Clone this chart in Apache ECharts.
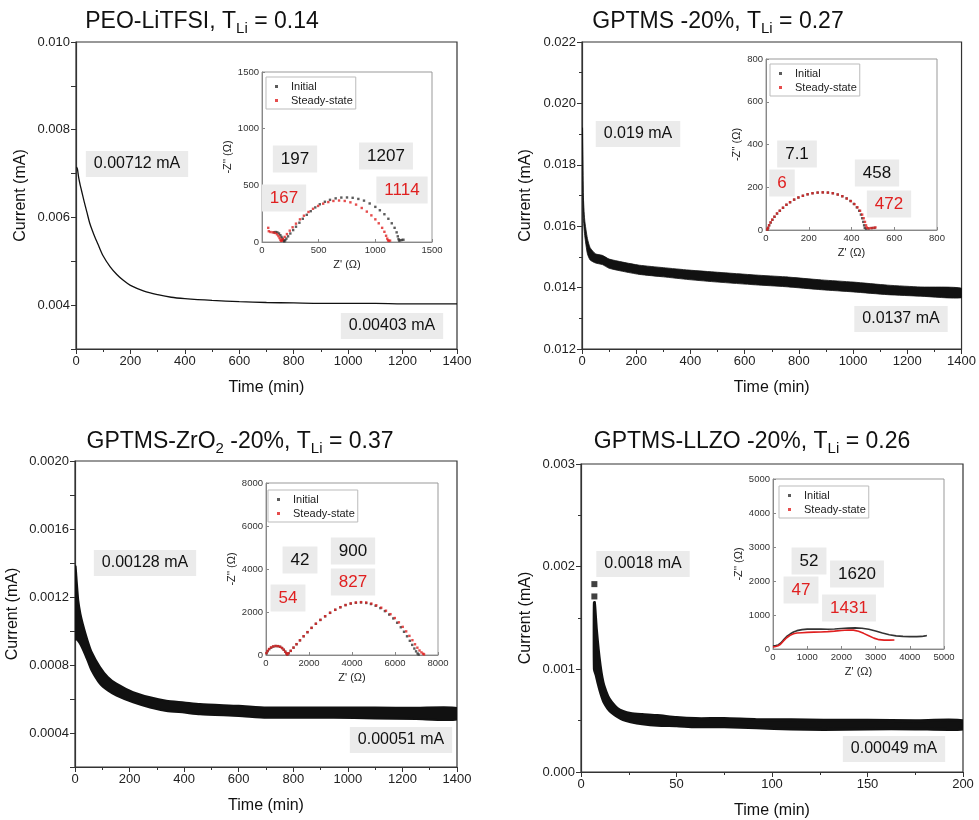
<!DOCTYPE html>
<html>
<head>
<meta charset="utf-8">
<script src="https://cdn.jsdelivr.net/npm/echarts@6.0.0/dist/echarts.min.js"></script>
<style>html,body{margin:0;background:#fff}#main{width:979px;height:820px}</style>
</head>
<body>
<div id="main"></div>
<script>
var FONT = '"Liberation Sans", Arial, sans-serif';
var RED = '#e02020';
var DARK = '#333';

// panel 1: PEO-LiTFSI
var t1 = [2, 5, 10, 15, 20, 30, 40, 50, 60, 70, 80, 100, 125, 150, 175, 200, 250, 300, 350, 400, 500, 600, 700, 800, 900, 1000, 1100, 1200, 1300, 1400];
var i1 = [0.00715, 0.00711, 0.00690, 0.00675, 0.00662, 0.00636, 0.00612, 0.00588, 0.00570, 0.00554, 0.00540, 0.00512, 0.00488, 0.00470, 0.00456, 0.00445, 0.00432, 0.00424, 0.00418, 0.00415, 0.00411, 0.00408, 0.00406, 0.00405, 0.00404, 0.00404, 0.00404, 0.00403, 0.00403, 0.00403];

// panel 2: GPTMS -20% (noisy band, upper / lower edge)
var t2 = [2, 5, 10, 20, 30, 50, 75, 100, 150, 211, 300, 395, 500, 640, 750, 884, 1000, 1128, 1250, 1400];
var up2 = [0.0192, 0.0170, 0.0162, 0.0156, 0.0153, 0.0151, 0.01505, 0.01493, 0.01483, 0.01473, 0.01465, 0.01457, 0.01450, 0.01441, 0.01435, 0.01425, 0.01418, 0.01408, 0.01402, 0.01398];
var lo2 = [0.0186, 0.0163, 0.0157, 0.0151, 0.0149, 0.0148, 0.01475, 0.01463, 0.01453, 0.01443, 0.01435, 0.01426, 0.01418, 0.01409, 0.01403, 0.01393, 0.01386, 0.01377, 0.01372, 0.01367];

// panel 3: GPTMS-ZrO2 -20%
var t3 = [2, 6, 12, 20, 29, 45, 60, 91, 120, 152, 213, 275, 335, 400, 458, 600, 702, 800, 947, 1100, 1250, 1400];
var up3 = [0.00138, 0.00130, 0.00118, 0.00110, 0.00104, 0.00095, 0.00088, 0.00079, 0.00073, 0.00069, 0.00064, 0.00061, 0.00059, 0.00058, 0.00057, 0.00056, 0.00055, 0.00055, 0.00055, 0.00055, 0.000548, 0.000547];
var lo3 = [0.00095, 0.00095, 0.00094, 0.00092, 0.00089, 0.00083, 0.00077, 0.00069, 0.00065, 0.00062, 0.00058, 0.00055, 0.00053, 0.00052, 0.00051, 0.00050, 0.00049, 0.00049, 0.00049, 0.000485, 0.000482, 0.00048];

// panel 4: GPTMS-LLZO -20%
var t4 = [7, 8, 9, 10, 11, 12, 14, 16, 19, 22, 26, 32, 40, 50, 60, 75, 92, 110, 127, 150, 175, 200];
var up4 = [0.00165, 0.00140, 0.00120, 0.00104, 0.00092, 0.00084, 0.00074, 0.00068, 0.00062, 0.00059, 0.00057, 0.00056, 0.00055, 0.00053, 0.00052, 0.00052, 0.00051, 0.00051, 0.000505, 0.000505, 0.0005, 0.0005];
var lo4 = [0.00100, 0.00094, 0.00086, 0.00079, 0.00073, 0.00068, 0.00062, 0.00058, 0.00054, 0.00051, 0.00049, 0.00047, 0.000455, 0.00045, 0.00044, 0.00044, 0.00043, 0.00042, 0.000415, 0.00042, 0.00042, 0.00042];
var first4 = [[7, 0.00183], [7, 0.00171]];

// insets (Nyquist, Z' / -Z'')
var nyq1Init = [[105,85],[120,88],[135,85],[150,75],[162,60],[172,45],[180,30],[186,18],[192,10],[197,6],[205,15],[215,30],[230,50],[250,75],[275,105],[300,135],[330,170],[360,205],[395,240],[430,272],[470,305],[510,333],[555,355],[600,372],[650,385],[700,392],[750,393],[800,390],[850,380],[900,365],[950,340],[1000,310],[1040,280],[1080,245],[1115,205],[1145,165],[1170,125],[1188,85],[1198,50],[1205,25],[1210,12],[1220,15],[1235,18],[1248,20]];
var nyq1SS = [[55,125],[60,95],[75,88],[95,85],[115,80],[132,68],[145,52],[155,35],[163,20],[168,10],[175,12],[185,25],[200,45],[220,70],[245,100],[270,130],[300,162],[335,200],[370,232],[410,265],[450,293],[495,318],[540,338],[585,352],[630,362],[680,366],[730,362],[780,350],[830,330],[880,300],[925,268],[965,235],[1000,200],[1030,165],[1060,125],[1080,90],[1095,55],[1105,30],[1112,15],[1118,10],[1130,12]];

var nyq2Init = [[7,2],[10,10],[15,22],[22,35],[30,48],[40,62],[52,77],[65,90],[80,104],[96,118],[113,130],[132,142],[152,152],[173,160],[195,167],[218,172],[242,175],[266,176],[290,175],[313,172],[336,166],[357,158],[377,148],[395,136],[411,122],[425,106],[436,90],[444,72],[450,55],[455,38],[459,22],[462,10],[468,6],[480,7],[495,9],[508,10]];
var nyq2SS = [[6,2],[9,10],[14,22],[21,35],[29,48],[39,62],[51,77],[64,90],[79,104],[95,118],[112,130],[131,142],[151,152],[172,160],[194,167],[217,172],[241,175],[265,176],[289,175],[312,172],[335,166],[357,158],[378,147],[397,135],[414,121],[428,106],[440,90],[450,72],[457,55],[463,38],[468,22],[471,12],[478,8],[490,9],[502,10],[512,12]];

var nyq3Init = [[30,80],[80,180],[150,270],[240,340],[340,390],[450,415],[560,410],[660,380],[750,320],[830,240],[900,150],[950,70],[990,20],[1050,80],[1150,190],[1280,340],[1420,500],[1580,680],[1750,870],[1930,1060],[2120,1260],[2320,1450],[2530,1630],[2750,1800],[2980,1960],[3220,2100],[3460,2220],[3700,2320],[3940,2390],[4180,2430],[4420,2445],[4660,2420],[4880,2370],[5100,2290],[5320,2180],[5530,2040],[5730,1880],[5920,1700],[6100,1500],[6270,1290],[6420,1080],[6560,870],[6690,660],[6800,470],[6900,300],[6980,170],[7050,70],[7100,20]];
var nyq3SS = [[20,90],[70,190],[140,280],[230,350],[330,400],[440,420],[550,415],[650,385],[740,330],[820,250],[890,160],[945,80],[990,25],[1050,85],[1150,195],[1280,345],[1420,505],[1580,685],[1750,875],[1930,1065],[2120,1265],[2320,1455],[2530,1635],[2750,1805],[2980,1965],[3220,2105],[3460,2225],[3700,2325],[3940,2400],[4180,2440],[4420,2460],[4660,2440],[4900,2390],[5130,2310],[5360,2200],[5580,2060],[5790,1900],[5990,1720],[6180,1520],[6360,1310],[6520,1100],[6670,890],[6810,690],[6930,500],[7040,340],[7140,210],[7230,120],[7310,60],[7350,30]];

var nyq4Init = [[0,90],[80,100],[150,120],[220,170],[300,260],[400,370],[500,440],[600,500],[700,540],[850,570],[1000,585],[1200,590],[1400,585],[1600,580],[1800,590],[2000,605],[2200,615],[2400,620],[2600,610],[2800,580],[3000,530],[3200,470],[3400,420],[3600,385],[3800,370],[4000,365],[4200,365],[4350,370],[4450,385],[4500,400]];
var nyq4SS = [[0,60],[80,75],[150,95],[220,140],[300,230],[400,330],[500,400],[600,450],[700,470],[850,480],[1000,490],[1200,495],[1400,500],[1600,510],[1800,525],[2000,545],[2200,560],[2350,555],[2500,520],[2650,460],[2800,390],[2950,320],[3100,275],[3250,260],[3400,260],[3550,265]];

function zip(xs, ys) {
    return xs.map(function (x, k) { return [x, ys[k]]; });
}

// plot boxes
var grids = [
    {left: 76, top: 42, width: 381, height: 307},
    {left: 582, top: 42, width: 382, height: 307},
    {left: 75, top: 461, width: 382, height: 306},
    {left: 581, top: 464, width: 382, height: 308},
    {left: 262, top: 72, width: 170, height: 170},
    {left: 766, top: 59, width: 171, height: 171},
    {left: 266, top: 483, width: 172, height: 172},
    {left: 773, top: 479, width: 171, height: 170}
];

function plain(v) { return String(v); }

function mainX(g, max, interval) {
    return {
        type: 'value', gridIndex: g, min: 0, max: max, interval: interval,
        name: 'Time (min)', nameLocation: 'middle', nameGap: 31,
        nameTextStyle: {fontFamily: FONT, fontSize: 16, color: '#111'},
        axisLine: {lineStyle: {color: DARK, width: 1.2}},
        axisTick: {length: 5, lineStyle: {color: DARK}},
        minorTick: {show: true, splitNumber: 2, length: 3, lineStyle: {color: DARK}},
        axisLabel: {fontFamily: FONT, fontSize: 13, color: '#222', margin: 6, formatter: plain},
        splitLine: {show: false}
    };
}

function mainY(g, min, max, interval, fmt, gap, minor) {
    return {
        type: 'value', gridIndex: g, min: min, max: max, interval: interval,
        name: 'Current (mA)', nameLocation: 'middle', nameGap: gap,
        nameTextStyle: {fontFamily: FONT, fontSize: 16, color: '#111'},
        axisLine: {lineStyle: {color: DARK, width: 1.2}},
        axisTick: {length: 5, lineStyle: {color: DARK}},
        minorTick: {show: minor, splitNumber: 2, length: 3, lineStyle: {color: DARK}},
        axisLabel: {fontFamily: FONT, fontSize: 13, color: '#222', margin: 6, formatter: fmt},
        splitLine: {show: false}
    };
}

function insetAxis(g, max, interval, isY) {
    return {
        type: 'value', gridIndex: g, min: 0, max: max, interval: interval,
        name: isY ? "-Z'' (\u03a9)" : "Z' (\u03a9)",
        nameLocation: 'middle', nameGap: isY ? 24 : 17,
        nameTextStyle: {fontFamily: FONT, fontSize: 11, color: '#222'},
        axisLine: {lineStyle: {color: '#888'}},
        axisTick: {inside: true, length: 3, lineStyle: {color: '#888'}},
        axisLabel: {fontFamily: FONT, fontSize: 9.5, color: '#333', margin: 3, formatter: plain},
        splitLine: {show: false}
    };
}

function insetLegend(left, top) {
    return {
        left: left, top: top, orient: 'vertical', icon: 'rect',
        itemWidth: 3, itemHeight: 3, itemGap: 3,
        padding: [4, 3, 3, 9],
        borderColor: '#bbb', borderWidth: 1, backgroundColor: '#fff',
        textStyle: {fontFamily: FONT, fontSize: 11, color: '#222', padding: [0, 0, 0, 8]},
        data: ['Initial', 'Steady-state']
    };
}

function dots(name, g, data, color) {
    return {
        name: name, type: 'scatter', xAxisIndex: g, yAxisIndex: g, data: data,
        symbol: 'rect', symbolSize: 2.4, itemStyle: {color: color}, z: 5
    };
}

// filled band between an upper and a lower edge, placed with the axis scales
function band(g, xs, up, lo, w) {
    return {
        type: 'custom', xAxisIndex: g, yAxisIndex: g, data: zip(xs, up), clip: true,
        encode: {x: 0, y: 1},
        renderItem: function (params, api) {
            if (params.dataIndex !== 0) return;
            var pts = [];
            for (var k = 0; k < xs.length; k++) pts.push(api.coord([xs[k], up[k]]));
            for (var j = xs.length - 1; j >= 0; j--) pts.push(api.coord([xs[j], lo[j]]));
            return {
                type: 'polygon', shape: {points: pts, smooth: 0.2},
                style: {fill: '#111', stroke: '#111', lineWidth: w, lineJoin: 'round'}
            };
        }
    };
}

function title(x, y, text) {
    return {
        type: 'text', x: x, y: y, z: 100,
        style: {
            text: text, align: 'center', verticalAlign: 'middle',
            rich: {
                a: {fontFamily: FONT, fontSize: 23, fill: '#111', lineHeight: 28},
                s: {fontFamily: FONT, fontSize: 15, fill: '#111', lineHeight: 12, verticalAlign: 'bottom'}
            }
        }
    };
}

function note(text, x, y, color, size) {
    return {
        type: 'text', x: x, y: y, z: 100,
        style: {
            text: text, align: 'center', verticalAlign: 'middle',
            fontFamily: FONT, fontSize: size, fill: color,
            backgroundColor: '#ebebeb', padding: [5, 8]
        }
    };
}

var series = [
    {type: 'line', xAxisIndex: 0, yAxisIndex: 0, data: zip(t1, i1), showSymbol: false, smooth: 0.3,
     lineStyle: {color: '#111', width: 1.3}},
    band(1, t2, up2, lo2, 0.8),
    band(2, t3, up3, lo3, 2),
    band(3, t4, up4, lo4, 3),
    {type: 'scatter', xAxisIndex: 3, yAxisIndex: 3, data: first4, symbol: 'rect', symbolSize: 6,
     itemStyle: {color: '#111'}},
    dots('Initial', 4, nyq1Init, '#333'), dots('Steady-state', 4, nyq1SS, RED),
    dots('Initial', 5, nyq2Init, '#333'), dots('Steady-state', 5, nyq2SS, RED),
    dots('Initial', 6, nyq3Init, '#333'), dots('Steady-state', 6, nyq3SS, RED),
    {name: 'Initial', type: 'line', xAxisIndex: 7, yAxisIndex: 7, data: nyq4Init, showSymbol: false,
     lineStyle: {color: '#333', width: 1.6}, itemStyle: {color: '#333'}},
    {name: 'Steady-state', type: 'line', xAxisIndex: 7, yAxisIndex: 7, data: nyq4SS, showSymbol: false,
     lineStyle: {color: RED, width: 1.6}, itemStyle: {color: RED}}
];

var option = {
    animation: false,
    backgroundColor: '#fff',
    grid: grids.map(function (g, k) {
        return {
            left: g.left, top: g.top, width: g.width, height: g.height, show: true,
            borderColor: k < 4 ? DARK : '#999', borderWidth: k < 4 ? 1.2 : 1,
            backgroundColor: k < 4 ? 'transparent' : '#fff'
        };
    }),
    xAxis: [
        mainX(0, 1400, 200), mainX(1, 1400, 200), mainX(2, 1400, 200), mainX(3, 200, 50),
        insetAxis(4, 1500, 500, false), insetAxis(5, 800, 200, false),
        insetAxis(6, 8000, 2000, false), insetAxis(7, 5000, 1000, false)
    ],
    yAxis: [
        mainY(0, 0.003, 0.010, 0.001, function (v) {
            return Math.round(v * 1000) % 2 === 0 ? v.toFixed(3) : '';
        }, 47, false),
        mainY(1, 0.012, 0.022, 0.002, function (v) { return v.toFixed(3); }, 48, true),
        mainY(2, 0.0002, 0.0020, 0.0002, function (v) {
            return Math.round(v / 0.0002) % 2 === 0 ? v.toFixed(4) : '';
        }, 54, false),
        mainY(3, 0, 0.003, 0.001, function (v) { return v.toFixed(3); }, 47, true),
        insetAxis(4, 1500, 500, true), insetAxis(5, 800, 200, true),
        insetAxis(6, 8000, 2000, true), insetAxis(7, 5000, 1000, true)
    ],
    legend: [
        insetLegend(266, 77), insetLegend(770, 64), insetLegend(268, 490), insetLegend(779, 486)
    ],
    series: series,
    graphic: [
        title(202, 22, '{a|PEO-LiTFSI, T}{s|Li}{a| = 0.14}'),
        title(718, 22, '{a|GPTMS -20%, T}{s|Li}{a| = 0.27}'),
        title(240, 442, '{a|GPTMS-ZrO}{s|2}{a| -20%, T}{s|Li}{a| = 0.37}'),
        title(752, 442, '{a|GPTMS-LLZO -20%, T}{s|Li}{a| = 0.26}'),

        note('0.00712 mA', 137, 164, '#111', 16),
        note('0.00403 mA', 392, 326, '#111', 16),
        note('0.019 mA', 638, 134, '#111', 16),
        note('0.0137 mA', 901, 319, '#111', 16),
        note('0.00128 mA', 145, 563, '#111', 16),
        note('0.00051 mA', 401, 740, '#111', 16),
        note('0.0018 mA', 643, 564, '#111', 16),
        note('0.00049 mA', 894, 749, '#111', 16),

        note('197', 295, 159, '#111', 17),
        note('1207', 386, 156, '#111', 17),
        note('167', 284, 198, RED, 17),
        note('1114', 402, 190, RED, 17),

        note('7.1', 797, 154, '#111', 17),
        note('6', 782, 183, RED, 17),
        note('458', 877, 173, '#111', 17),
        note('472', 889, 204, RED, 17),

        note('42', 300, 560, '#111', 17),
        note('900', 353, 551, '#111', 17),
        note('827', 353, 582, RED, 17),
        note('54', 288, 598, RED, 17),

        note('52', 809, 561, '#111', 17),
        note('1620', 857, 574, '#111', 17),
        note('47', 801, 590, RED, 17),
        note('1431', 849, 608, RED, 17)
    ]
};

var myChart = echarts.init(document.getElementById('main'));
myChart.setOption(option);
</script>
</body>
</html>
